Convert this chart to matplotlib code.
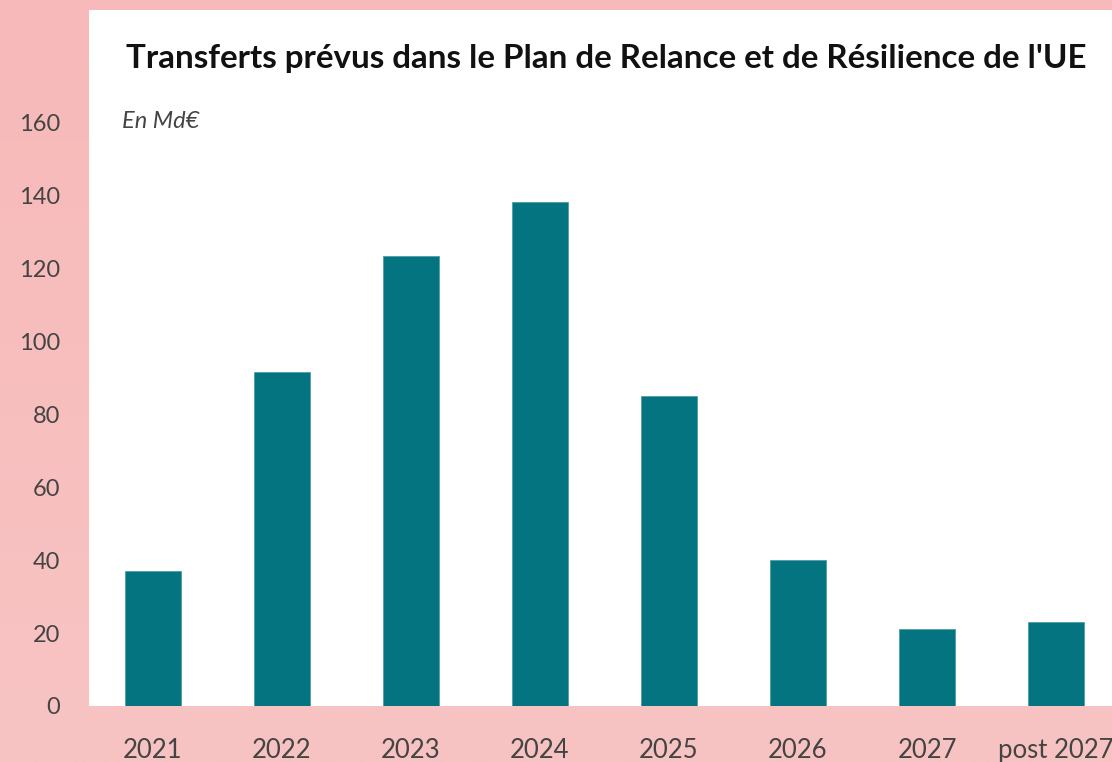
import matplotlib
matplotlib.use('Agg')
import matplotlib.pyplot as plt
import numpy as np

# Transferts prévus, en Md€
years = ["2021", "2022", "2023", "2024", "2025", "2026", "2027", "post 2027"]
transfers = [37.0, 91.5, 123.3, 138.1, 84.9, 40.0, 21.1, 23.0]
yticks = [0, 20, 40, 60, 80, 100, 120, 140, 160]

plt.rcParams['font.family'] = ['Lato', 'DejaVu Sans']

fig = plt.figure(figsize=(11.12, 7.62), dpi=100)

# pink background, slightly lighter towards the bottom
bg = fig.add_axes([0, 0, 1, 1], zorder=-1)
top_col = np.array([248, 185, 185]) / 255
bot_col = np.array([247, 196, 195]) / 255
t = np.linspace(0, 1, 256)[:, None, None]
grad = top_col * (1 - t) + bot_col * t
bg.imshow(grad, aspect='auto', extent=[0, 1, 0, 1])
bg.axis('off')

ax = fig.add_axes([89 / 1112, 56 / 762, 1 - 89 / 1112, 696 / 762])
ax.set_facecolor('white')

xs = range(len(years))
ax.bar(xs, transfers, width=0.434, color='#037480', edgecolor='#4f9ea6', linewidth=0.6)

ax.set_xlim(-0.496, 7.434)
ax.set_ylim(0, 190.7)
ax.set_yticks(yticks)
ax.set_yticklabels([str(v) for v in yticks])
ax.set_xticks(list(xs))
ax.set_xticklabels(years)
ax.tick_params(axis='both', length=0, colors='#444444')
ax.tick_params(axis='y', pad=21, labelsize=17)
ax.tick_params(axis='x', pad=23, labelsize=18.5)
for s in ax.spines.values():
    s.set_visible(False)

ax.text(0.506, 0.93, "Transferts prévus dans le Plan de Relance et de Résilience de l'UE",
        transform=ax.transAxes, ha='center', va='center', fontsize=23.9,
        fontweight='bold', color='#111111')
ax.text(0.032, 0.84, "En Md€", transform=ax.transAxes, ha='left', va='center',
        fontsize=17, style='italic', color='#444444')

fig.savefig('out.png', dpi=100)
